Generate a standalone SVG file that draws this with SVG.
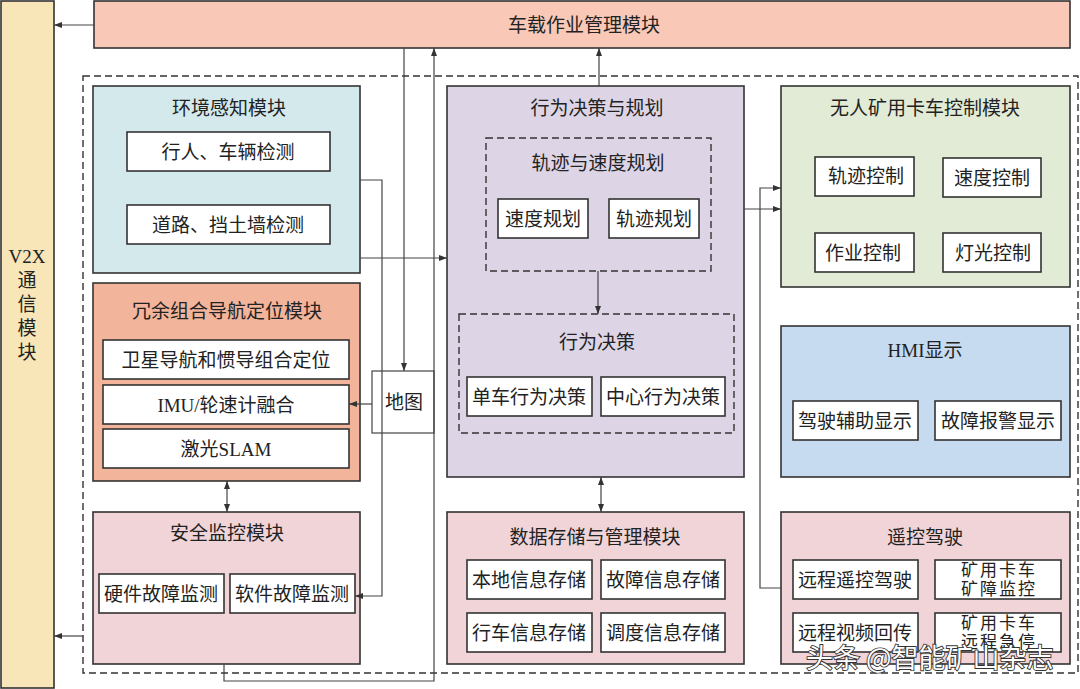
<svg xmlns="http://www.w3.org/2000/svg" width="1080" height="689" viewBox="0 0 1080 689">
<style>
text{font-family:"Liberation Serif","Noto Sans CJK SC",serif;font-size:19px;fill:#222;text-anchor:middle;dominant-baseline:central}
.box{stroke:#333;stroke-width:1.6}
.sub{fill:#fff;stroke:#333;stroke-width:1.6}
.dash{fill:none;stroke:#333;stroke-width:1.4;stroke-dasharray:7 4}
.ln{fill:none;stroke:#444;stroke-width:1.2}
.sm{font-size:17px;letter-spacing:2px}
.wm{font-family:"Noto Sans CJK SC",sans-serif;font-size:27px;fill:#fff;stroke:#333;stroke-width:1.8;paint-order:stroke;text-anchor:start}
</style>
<defs>
<marker id="ah" viewBox="0 0 8 6" refX="8" refY="3" markerWidth="8" markerHeight="6" markerUnits="userSpaceOnUse" orient="auto-start-reverse"><path d="M0,0 L8,3 L0,6 z" fill="#333"/></marker>
</defs>
<rect width="1080" height="689" fill="#fff"/>

<g id="v2x">
<rect class="box" x="1" y="1" width="53" height="687" fill="#F8E6B8"/>
<text x="27" y="256">V2X</text>
<text x="27" y="280">通</text>
<text x="27" y="304">信</text>
<text x="27" y="328">模</text>
<text x="27" y="352">块</text>
</g>

<g id="top">
<rect class="box" x="94" y="1" width="976" height="47" fill="#F9C8B7"/>
<text x="584" y="25">车载作业管理模块</text>
</g>

<rect id="outer" class="dash" x="83" y="76" width="995" height="597"/>

<g id="env">
<rect class="box" x="93" y="86" width="267" height="187" fill="#D4E9EC"/>
<text x="229" y="108">环境感知模块</text>
<rect class="sub" x="127" y="132" width="203" height="39"/>
<text x="228" y="152">行人、车辆检测</text>
<rect class="sub" x="127" y="205" width="203" height="39"/>
<text x="228" y="225">道路、挡土墙检测</text>
</g>

<g id="nav">
<rect class="box" x="93" y="283" width="267" height="198" fill="#F2B49A"/>
<text x="227" y="311">冗余组合导航定位模块</text>
<rect class="sub" x="103" y="340" width="246" height="39"/>
<text x="226" y="360">卫星导航和惯导组合定位</text>
<rect class="sub" x="103" y="385" width="246" height="39"/>
<text x="226" y="405">IMU/轮速计融合</text>
<rect class="sub" x="103" y="429" width="246" height="39"/>
<text x="226" y="449">激光SLAM</text>
</g>

<g id="safety">
<rect class="box" x="93" y="512" width="267" height="152" fill="#F0D4D8"/>
<text x="227" y="533">安全监控模块</text>
<rect class="sub" x="99" y="574" width="125" height="39"/>
<text x="161" y="594">硬件故障监测</text>
<rect class="sub" x="230" y="574" width="125" height="39"/>
<text x="292" y="594">软件故障监测</text>
</g>

<g id="map">
<rect x="372" y="371" width="62" height="62" fill="#fff" stroke="#444" stroke-width="1.2"/>
<text x="404" y="402">地图</text>
</g>

<g id="plan">
<rect class="box" x="447" y="86" width="297" height="391" fill="#DDD5E6"/>
<text x="597" y="108">行为决策与规划</text>
<rect class="dash" x="486" y="138" width="225" height="133"/>
<text x="598" y="163">轨迹与速度规划</text>
<rect class="sub" x="498" y="199" width="90" height="39"/>
<text x="543" y="219">速度规划</text>
<rect class="sub" x="609" y="199" width="90" height="39"/>
<text x="654" y="219">轨迹规划</text>
<rect class="dash" x="459" y="314" width="275" height="119"/>
<text x="597" y="342">行为决策</text>
<rect class="sub" x="467" y="377" width="125" height="39"/>
<text x="529" y="397">单车行为决策</text>
<rect class="sub" x="601" y="377" width="124" height="39"/>
<text x="663" y="397">中心行为决策</text>
</g>

<g id="data">
<rect class="box" x="447" y="512" width="297" height="152" fill="#F0D4D8"/>
<text x="595" y="537">数据存储与管理模块</text>
<rect class="sub" x="467" y="560" width="125" height="39"/>
<text x="529" y="580">本地信息存储</text>
<rect class="sub" x="601" y="560" width="124" height="39"/>
<text x="663" y="580">故障信息存储</text>
<rect class="sub" x="467" y="613" width="125" height="39"/>
<text x="529" y="633">行车信息存储</text>
<rect class="sub" x="601" y="613" width="124" height="39"/>
<text x="663" y="633">调度信息存储</text>
</g>

<g id="control">
<rect class="box" x="781" y="86" width="289" height="201" fill="#E2EBD5"/>
<text x="925" y="108">无人矿用卡车控制模块</text>
<rect class="sub" x="815" y="157" width="99" height="39"/>
<text x="866" y="176">轨迹控制</text>
<rect class="sub" x="943" y="158" width="98" height="39"/>
<text x="992" y="178">速度控制</text>
<rect class="sub" x="815" y="233" width="99" height="39"/>
<text x="863" y="253">作业控制</text>
<rect class="sub" x="943" y="233" width="98" height="39"/>
<text x="993" y="253">灯光控制</text>
</g>

<g id="hmi">
<rect class="box" x="781" y="326" width="289" height="151" fill="#C6DAF0"/>
<text x="925" y="350">HMI显示</text>
<rect class="sub" x="793" y="401" width="125" height="39"/>
<text x="855" y="421">驾驶辅助显示</text>
<rect class="sub" x="935" y="401" width="126" height="39"/>
<text x="998" y="421">故障报警显示</text>
</g>

<g id="remote">
<rect class="box" x="781" y="512" width="289" height="152" fill="#F0D4D8"/>
<text x="925" y="537">遥控驾驶</text>
<rect class="sub" x="793" y="560" width="125" height="39"/>
<text x="855" y="580">远程遥控驾驶</text>
<rect class="sub" x="935" y="560" width="126" height="39"/>
<text class="sm" x="999" y="570">矿用卡车</text>
<text class="sm" x="999" y="589">矿障监控</text>
<rect class="sub" x="793" y="613" width="125" height="39"/>
<text x="855" y="633">远程视频回传</text>
<rect class="sub" x="935" y="613" width="126" height="39"/>
<text class="sm" x="999" y="623">矿用卡车</text>
<text class="sm" x="999" y="642">远程急停</text>
</g>

<g id="connectors">
<path class="ln" d="M94,25 H54" marker-end="url(#ah)"/>
<path class="ln" d="M83,636 H54" marker-end="url(#ah)"/>
<path class="ln" d="M404,48 V371" marker-end="url(#ah)"/>
<path class="ln" d="M224,664 V681 H434 V48" marker-end="url(#ah)"/>
<path class="ln" d="M360,180 H382 V596 H355" marker-end="url(#ah)"/>
<path class="ln" d="M360,258 H447" marker-end="url(#ah)"/>
<path class="ln" d="M372,404 H349" marker-end="url(#ah)"/>
<path class="ln" d="M227,481 V512" marker-start="url(#ah)" marker-end="url(#ah)"/>
<path class="ln" d="M599,86 V48" marker-end="url(#ah)"/>
<path class="ln" d="M598,271 V314" marker-end="url(#ah)"/>
<path class="ln" d="M601,477 V512" marker-start="url(#ah)" marker-end="url(#ah)"/>
<path class="ln" d="M744,209 H781" marker-end="url(#ah)"/>
<path class="ln" d="M781,588 H760 V188 H781" marker-end="url(#ah)"/>
</g>

<text class="wm" x="806" y="656">头条 @智能矿山杂志</text>
</svg>
